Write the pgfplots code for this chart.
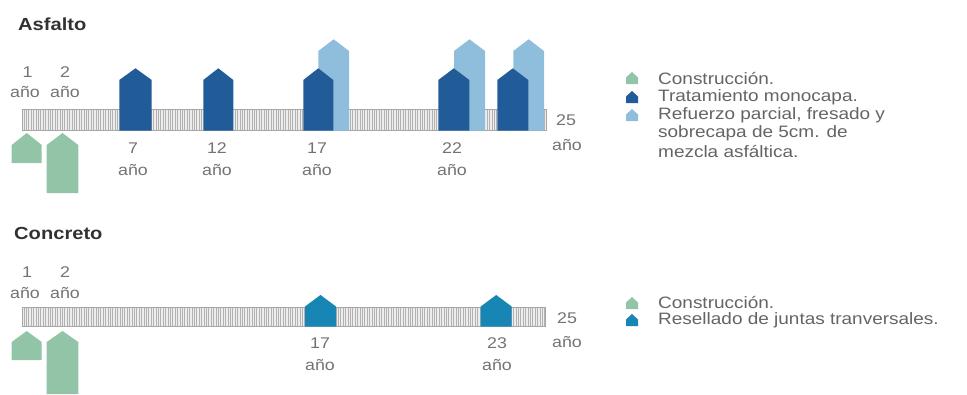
\documentclass[border=0pt]{standalone}
\usepackage{fontspec}
\setmainfont{Liberation Sans}[FakeStretch=1.15]
\usepackage{pgfplots}
\pgfplotsset{compat=1.18}
\usetikzlibrary{patterns.meta}
\definecolor{cons}{RGB}{146,196,168}
\definecolor{dblue}{RGB}{34,92,152}
\definecolor{lblue}{RGB}{142,190,220}
\definecolor{teal}{RGB}{24,134,180}
\definecolor{txt}{RGB}{100,100,100}
\definecolor{lbl}{RGB}{115,115,115}
\definecolor{ttl}{RGB}{50,50,50}
\begin{document}
\begin{tikzpicture}
\path[use as bounding box] (0,0) rectangle (967pt,394pt);
\begin{axis}[
  at={(0,0)}, anchor=south west,
  width=967pt, height=394pt, scale only axis,
  xmin=0, xmax=967, ymin=0, ymax=394, y dir=reverse,
  hide axis, clip=false,
]
% ---------- Asfalto timeline ----------
\addplot[draw=gray!70, fill=gray!14, line width=0.6pt,
  postaction={pattern={Lines[angle=90,distance=2.4pt,line width=0.9pt]}, pattern color=gray!60}]
  coordinates {(22.7,109.3) (546,109.3) (546,130.7) (22.7,130.7)} --cycle;
% light blue (refuerzo)
\addplot[fill=lblue, draw=none] coordinates {(318.3,130.7) (318.3,51) (333.7,39.3) (349,51) (349,130.7)} --cycle;
\addplot[fill=lblue, draw=none] coordinates {(454,130.7) (454,51) (469.5,39.3) (485,51) (485,130.7)} --cycle;
\addplot[fill=lblue, draw=none] coordinates {(513.3,130.7) (513.3,51) (528.7,39.3) (544,51) (544,130.7)} --cycle;
% dark blue (monocapa)
\addplot[fill=dblue, draw=none] coordinates {(119.3,130.7) (119.3,80) (135.5,68.3) (151.7,80) (151.7,130.7)} --cycle;
\addplot[fill=dblue, draw=none] coordinates {(203.3,130.7) (203.3,80) (218.3,68.3) (233.3,80) (233.3,130.7)} --cycle;
\addplot[fill=dblue, draw=none] coordinates {(303.3,130.7) (303.3,80) (318.3,68.3) (333.3,80) (333.3,130.7)} --cycle;
\addplot[fill=dblue, draw=none] coordinates {(438.3,130.7) (438.3,80) (453.8,68.3) (469.3,80) (469.3,130.7)} --cycle;
\addplot[fill=dblue, draw=none] coordinates {(497.3,130.7) (497.3,80) (512.8,68.3) (528.3,80) (528.3,130.7)} --cycle;
% construction
\addplot[fill=cons, draw=none] coordinates {(11.7,163) (11.7,145) (26.7,133) (41.7,145) (41.7,163)} --cycle;
\addplot[fill=cons, draw=none] coordinates {(46.7,193) (46.7,145) (62.5,133) (78.3,145) (78.3,193)} --cycle;
% ---------- Concreto timeline ----------
\addplot[draw=gray!70, fill=gray!14, line width=0.6pt,
  postaction={pattern={Lines[angle=90,distance=2.4pt,line width=0.9pt]}, pattern color=gray!60}]
  coordinates {(22.7,307.5) (545,307.5) (545,326.7) (22.7,326.7)} --cycle;
\addplot[fill=teal, draw=none] coordinates {(305,326.7) (305,306.5) (320.5,295) (336,306.5) (336,326.7)} --cycle;
\addplot[fill=teal, draw=none] coordinates {(480.7,326.7) (480.7,306.5) (496.2,295) (511.7,306.5) (511.7,326.7)} --cycle;
\addplot[fill=cons, draw=none] coordinates {(11.7,360) (11.7,342) (26.7,331) (41.7,342) (41.7,360)} --cycle;
\addplot[fill=cons, draw=none] coordinates {(46.7,394) (46.7,342) (62.5,331) (78.3,342) (78.3,394)} --cycle;
% ---------- legend icons ----------
\addplot[fill=cons, draw=none] coordinates {(626,84) (626,77.5) (632,72) (638,77.5) (638,84)} --cycle;
\addplot[fill=dblue, draw=none] coordinates {(626,103) (626,96.5) (632,91) (638,96.5) (638,103)} --cycle;
\addplot[fill=lblue, draw=none] coordinates {(626,121) (626,114.5) (632,109) (638,114.5) (638,121)} --cycle;
\addplot[fill=cons, draw=none] coordinates {(626,309) (626,302.5) (632,297) (638,302.5) (638,309)} --cycle;
\addplot[fill=teal, draw=none] coordinates {(626,326) (626,319.5) (632,314) (638,319.5) (638,326)} --cycle;
% ---------- titles ----------
\node[anchor=west, inner sep=0pt, text=ttl, font=\fontsize{17.5}{20}\selectfont\bfseries] at (axis cs:18,24) {Asfalto};
\node[anchor=west, inner sep=0pt, text=ttl, font=\fontsize{17.5}{20}\selectfont\bfseries] at (axis cs:14,233) {Concreto};
% ---------- legend text ----------
\begin{scope}[every node/.append style={anchor=west, inner sep=0pt, text=txt, font=\fontsize{16.5}{18.5}\selectfont}]
\node at (axis cs:658,78.3) {Construcción.};
\node at (axis cs:658,97.3) {Tratamiento monocapa.};
\node at (axis cs:658,115.5) {Refuerzo parcial, fresado y};
\node at (axis cs:658,133.5) {sobrecapa de 5cm. de};
\node at (axis cs:658,151.7) {mezcla asfáltica.};
\node at (axis cs:658,303) {Construcción.};
\node at (axis cs:658,320.5) {Resellado de juntas tranversales.};
\end{scope}
% ---------- year labels ----------
\begin{scope}[every node/.append style={inner sep=0pt, text=lbl, font=\fontsize{15.5}{18}\selectfont}]
\node at (axis cs:27.5,72) {1};   \node at (axis cs:25,92.5) {año};
\node at (axis cs:65,72) {2};     \node at (axis cs:65,92.5) {año};
\node at (axis cs:133,148) {7};   \node at (axis cs:133,170) {año};
\node at (axis cs:217,148) {12};  \node at (axis cs:217,170) {año};
\node at (axis cs:317,148) {17};  \node at (axis cs:317,170) {año};
\node at (axis cs:452,148) {22};  \node at (axis cs:452,170) {año};
\node at (axis cs:566,120) {25};  \node at (axis cs:567,145) {año};
\node at (axis cs:27,272) {1};    \node at (axis cs:25,293) {año};
\node at (axis cs:65,272) {2};    \node at (axis cs:65,293) {año};
\node at (axis cs:320,343) {17};  \node at (axis cs:320,365) {año};
\node at (axis cs:497,343) {23};  \node at (axis cs:497,365) {año};
\node at (axis cs:567,318) {25};  \node at (axis cs:567,342) {año};
\end{scope}
\end{axis}
\end{tikzpicture}
\end{document}
